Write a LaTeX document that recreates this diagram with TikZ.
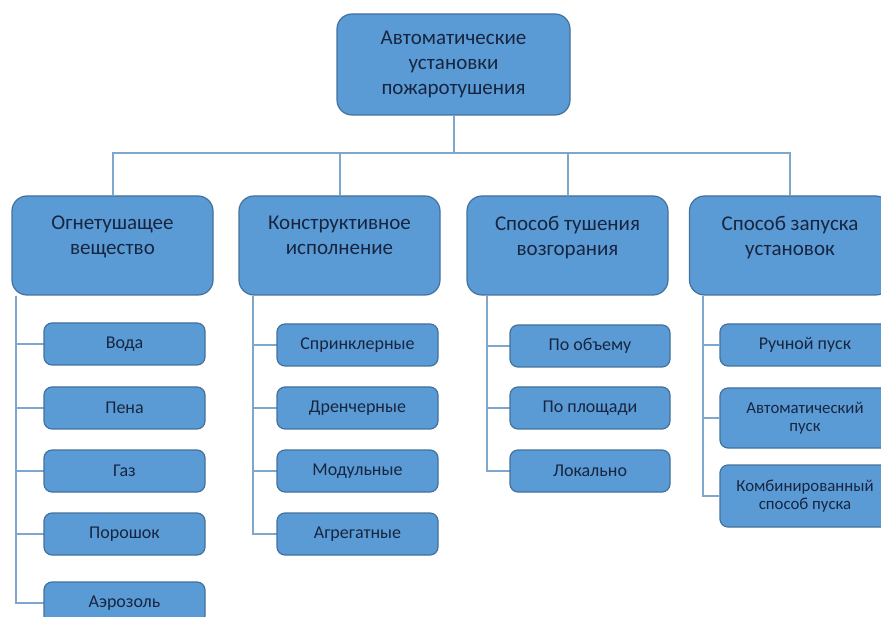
\documentclass[tikz,border=0pt]{standalone}
\usepackage{fontspec}
\setmainfont{Carlito}
\definecolor{boxfill}{HTML}{5B9BD5}
\definecolor{boxline}{HTML}{41719C}
\definecolor{linkline}{HTML}{7FA6CC}
\definecolor{boxtext}{HTML}{172540}
\tikzset{
  basebox/.style={draw=boxline, fill=boxfill, text=boxtext, line width=1.2pt, align=center},
  topbox/.style={basebox, rounded corners=15pt, minimum width=233pt, minimum height=101pt,
    font=\fontsize{21}{25}\selectfont},
  groupbox/.style={basebox, rounded corners=15pt, minimum width=201pt, minimum height=99pt,
    font=\fontsize{21}{25}\selectfont, text depth=20pt},
  itembox/.style={basebox, rounded corners=8pt, minimum width=161pt, minimum height=42pt,
    font=\fontsize{18}{21}\selectfont},
  smallbox/.style={itembox, minimum width=170pt, font=\fontsize{16.8}{18.5}\selectfont},
  link/.style={draw=linkline, line width=2pt}
}
\begin{document}
\begin{tikzpicture}[x=1pt, y=-1pt]
  \useasboundingbox (0,0) rectangle (881,617);

  \node[topbox] (root) at (453.5,64.5) {Автоматические\\установки\\пожаротушения};

  \node[groupbox] (agent) at (112.5,245.5) {Огнетушащее\\вещество};
  \node[groupbox] (design) at (339.5,245.5) {Конструктивное\\исполнение};
  \node[groupbox] (method) at (567.5,245.5) {Способ тушения\\возгорания};
  \node[groupbox] (launch) at (790,245.5) {Способ запуска\\установок};

  \draw[link] (root.south) -- ++(0,37) coordinate (bus);
  \foreach \g in {agent,design,method,launch}
    \draw[link] (bus) -| (\g.north);

  \foreach \n/\t/\y in {water/Вода/344, foam/Пена/408, gas/Газ/471, powder/Порошок/534, aerosol/Аэрозоль/603} {
    \draw[link] ([xshift=5pt]agent.south west) |- (124.5-80.5,\y);
    \node[itembox] (\n) at (124.5,\y) {\t};
  }

  \foreach \n/\t/\y in {sprinkler/Спринклерные/345, drencher/Дренчерные/408, modular/Модульные/471, aggregate/Агрегатные/534} {
    \draw[link] ([xshift=15pt]design.south west) |- (357.5-80.5,\y);
    \node[itembox] (\n) at (357.5,\y) {\t};
  }

  \foreach \n/\t/\y in {volume/По объему/346, area/По площади/408, local/Локально/471} {
    \draw[link] ([xshift=21pt]method.south west) |- (590-80,\y);
    \node[itembox, minimum width=160pt] (\n) at (590,\y) {\t};
  }

  \node[smallbox, font=\fontsize{18}{21}\selectfont] (manual) at (805,345) {Ручной пуск};
  \node[smallbox, minimum height=60pt] (auto) at (805,418) {Автоматический\\пуск};
  \node[smallbox, minimum height=62pt] (combined) at (805,496) {Комбинированный\\способ пуска};
  \foreach \n in {manual,auto,combined}
    \draw[link] ([xshift=14pt]launch.south west) |- (\n.west);
\end{tikzpicture}
\end{document}
